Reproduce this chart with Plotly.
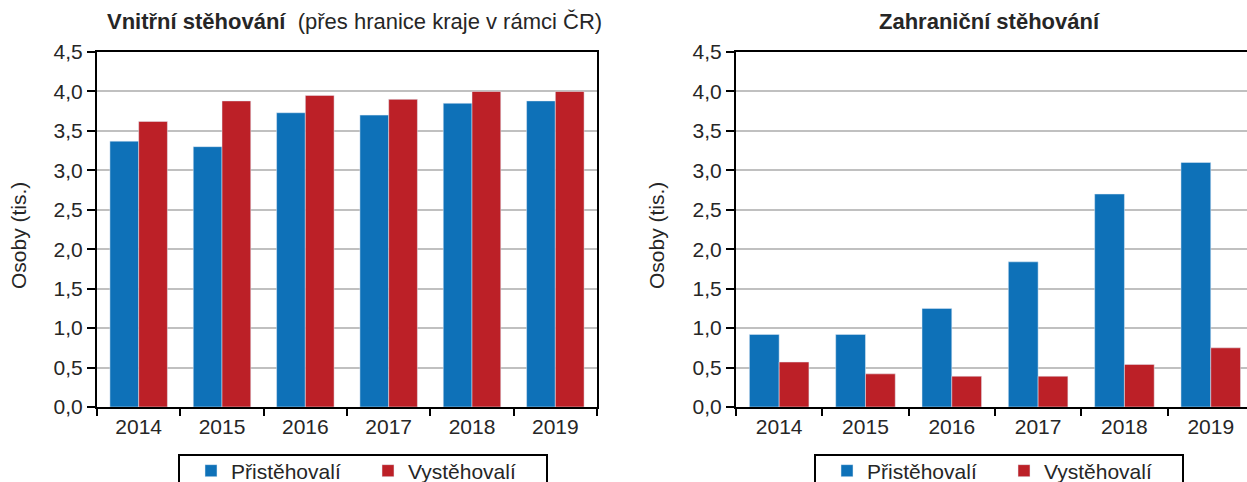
import plotly.graph_objects as go

years = ["2014", "2015", "2016", "2017", "2018", "2019"]
vnitrni_prist = [3.37, 3.30, 3.73, 3.70, 3.85, 3.88]
vnitrni_vyst = [3.62, 3.88, 3.95, 3.90, 4.00, 4.00]
zahr_prist = [0.92, 0.92, 1.25, 1.84, 2.70, 3.10]
zahr_vyst = [0.57, 0.42, 0.39, 0.39, 0.54, 0.75]
y_ticks = [0, 0.5, 1.0, 1.5, 2.0, 2.5, 3.0, 3.5, 4.0, 4.5]

BLUE = "#0e71b8"
RED = "#bc2027"
TXT = "#262626"
FONT = "Liberation Sans, Arial, sans-serif"
FS = 21
W, H = 1247, 482

def px(x):
    return x / W

def py(y):
    return 1 - y / H

fig = go.Figure()
fig.add_bar(x=years, y=vnitrni_prist, name="Přistěhovalí", marker_color=BLUE,
            xaxis="x", yaxis="y", legend="legend")
fig.add_bar(x=years, y=vnitrni_vyst, name="Vystěhovalí", marker_color=RED,
            xaxis="x", yaxis="y", legend="legend")
fig.add_bar(x=years, y=zahr_prist, name="Přistěhovalí", marker_color=BLUE,
            xaxis="x2", yaxis="y2", legend="legend2")
fig.add_bar(x=years, y=zahr_vyst, name="Vystěhovalí", marker_color=RED,
            xaxis="x2", yaxis="y2", legend="legend2")

ydom = [py(407), py(52)]
common_x = dict(type="category", tickson="boundaries", ticks="outside", ticklen=7,
                tickwidth=2, tickcolor="black", showline=True, linecolor="black",
                linewidth=2, showgrid=False, tickfont=dict(size=FS, color=TXT, family=FONT),
                automargin=False, fixedrange=True)
common_y = dict(range=[0, 4.5], tickvals=y_ticks, tickformat=".1f", ticks="outside",
                ticklen=8, tickwidth=2, tickcolor="black", showline=True, linecolor="black",
                linewidth=2, showgrid=True, gridcolor="#c0c0c0", gridwidth=2,
                tickfont=dict(size=FS, color=TXT, family=FONT), automargin=False,
                zeroline=False, domain=ydom, fixedrange=True)

fig.update_layout(
    width=W, height=H,
    margin=dict(l=0, r=0, t=0, b=0, autoexpand=False),
    paper_bgcolor="white", plot_bgcolor="white",
    separators=", ",
    barmode="group", bargap=0.31, bargroupgap=0,
    font=dict(family=FONT, color=TXT, size=FS),
    xaxis=dict(common_x, domain=[px(97), px(597)], mirror=True, range=[-0.5, 5.5]),
    yaxis=dict(common_y, mirror=True, anchor="x"),
    xaxis2=dict(common_x, domain=[px(736), 1.0], mirror=True, range=[-0.5, 5.42], anchor="y2"),
    yaxis2=dict(common_y, anchor="x2"),
    legend=dict(orientation="h", x=px(191), y=py(471), xanchor="left", yanchor="middle",
                bgcolor="rgba(0,0,0,0)", borderwidth=0, entrywidth=132,
                font=dict(size=FS, color=TXT, family=FONT)),
    legend2=dict(orientation="h", x=px(827), y=py(471), xanchor="left", yanchor="middle",
                 bgcolor="rgba(0,0,0,0)", borderwidth=0, entrywidth=132,
                 font=dict(size=FS, color=TXT, family=FONT)),
    showlegend=True,
)

# legend frames
for x0, x1 in [(179, 547), (815, 1183)]:
    fig.add_shape(type="rect", xref="paper", yref="paper", x0=px(x0), x1=px(x1),
                  y0=py(500), y1=py(455), line=dict(color="black", width=2),
                  fillcolor="rgba(0,0,0,0)", layer="above")

fig.add_annotation(x=px(354), y=py(22), xref="paper", yref="paper", showarrow=False,
                   xanchor="center", yanchor="middle",
                   text="<b>Vnitřní stěhování</b>  (přes hranice kraje v rámci ČR)",
                   font=dict(size=22, color=TXT, family=FONT))
fig.add_annotation(x=px(989), y=py(22), xref="paper", yref="paper", showarrow=False,
                   xanchor="center", yanchor="middle",
                   text="<b>Zahraniční stěhování</b>",
                   font=dict(size=22, color=TXT, family=FONT))
for xx in [18, 656]:
    fig.add_annotation(x=px(xx), y=py(236), xref="paper", yref="paper", showarrow=False,
                       xanchor="center", yanchor="middle",
                       text="Osoby (tis.)", textangle=-90,
                       font=dict(size=FS, color=TXT, family=FONT))

fig.write_html("out.html", config={"displayModeBar": False},
               post_script="document.body.style.margin='0px';")
